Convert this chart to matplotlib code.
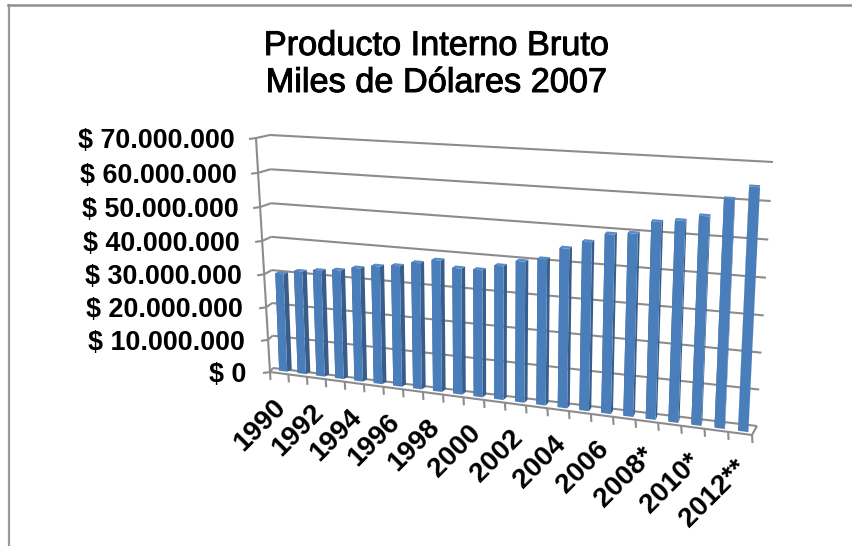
import numpy as np
import matplotlib
matplotlib.use("Agg")
import matplotlib.pyplot as plt
import matplotlib.patheffects as pe
from matplotlib.transforms import Transform, IdentityTransform

# data
years = ["1990", "1991", "1992", "1993", "1994", "1995", "1996", "1997", "1998", "1999", "2000", "2001",
         "2002", "2003", "2004", "2005", "2006", "2007", "2008*", "2009", "2010*", "2011", "2012**"]
pib = [29.8, 31.1, 31.9, 32.6, 33.8, 34.9, 35.6, 37.0, 38.3, 36.6, 36.7, 38.4,
       40.2, 41.4, 44.9, 47.2, 49.8, 50.5, 54.1, 54.9, 56.6, 61.5, 65.0]
pib = [v * 1e6 for v in pib]
y_ticks = [0, 10e6, 20e6, 30e6, 40e6, 50e6, 60e6, 70e6]
y_labels = ["$ 0", "$ 10.000.000", "$ 20.000.000", "$ 30.000.000", "$ 40.000.000",
            "$ 50.000.000", "$ 60.000.000", "$ 70.000.000"]

W, H = 852, 546
N = len(years)
VMAX = 70e6

# corners in image pixels: (0,0), (N,0), (N,max), (0,max)
FRONT = [(270, 372), (752, 435), (762, 168), (256, 138)]
BACK = [(273, 368), (757, 426), (773, 162), (270, 135)]
BAR_F = [(274, 370), (755, 433), (768, 168), (264.5, 136)]
BAR_B = [(278.5, 368), (755, 429), (768, 166), (269, 134)]


def homography(corners):
    src = [(0, 0), (1, 0), (1, 1), (0, 1)]
    A, b = [], []
    for (x, y), (u, v) in zip(src, corners):
        A.append([x, y, 1, 0, 0, 0, -u * x, -u * y])
        A.append([0, 0, 0, x, y, 1, -v * x, -v * y])
        b += [u, v]
    h = np.linalg.solve(np.array(A, float), np.array(b, float))
    return np.append(h, 1).reshape(3, 3)


class Plane(Transform):
    # (category, value) -> display pixels on one flat face of the 3d box
    input_dims = 2
    output_dims = 2

    def __init__(self, corners):
        super().__init__()
        self.h = homography(corners)

    def transform_non_affine(self, xy):
        xy = np.asarray(xy, float)
        pts = np.c_[xy[:, 0] / N, xy[:, 1] / VMAX, np.ones(len(xy))]
        out = pts @ self.h.T
        out = out[:, :2] / out[:, 2:]
        out[:, 1] = H - out[:, 1]
        return out

    def pt(self, cat, val):
        return self.transform_non_affine(np.array([[cat, val]]))[0]


plt.rcParams["font.family"] = ["Liberation Sans", "DejaVu Sans"]

fig = plt.figure(figsize=(W / 100, H / 100), dpi=100)
ax = fig.add_axes([0, 0, 1, 1])
ax.set_xlim(0, N)
ax.set_ylim(0, VMAX)
ax.autoscale(False)
ax.axis("off")

front_p = Plane(FRONT)
back_p = Plane(BACK)
px = IdentityTransform()
grid_col = "#8c8c8c"
line = dict(color=grid_col, lw=1.5, clip_on=False, solid_capstyle="butt")

# frame of the slide
fig.add_artist(plt.Line2D([8.5 / W, 8.5 / W], [0, 1 - 5 / H], color="#9a9a9a", lw=1.6))
fig.add_artist(plt.Line2D([8 / W, 1], [1 - 5 / H, 1 - 5 / H], color="#8f8f8f", lw=1.8))

# walls and gridlines
for v in y_ticks:
    ax.plot([0, N], [v, v], transform=back_p, **line)
    p0 = front_p.pt(0, v)
    p1 = back_p.pt(0, v)
    ax.plot([p0[0], p1[0]], [p0[1], p1[1]], transform=px, **line)
    ax.plot([p0[0] - 7, p0[0]], [p0[1] - 1, p0[1]], transform=px, **line)
ax.plot([0, 0], [0, VMAX], transform=front_p, **line)
ax.plot([0, N], [0, 0], transform=front_p, **line)
p0 = front_p.pt(N, 0)
p1 = back_p.pt(N, 0)
ax.plot([p0[0], p1[0]], [p0[1], p1[1]], transform=px, **line)
for i in range(N + 1):
    p = front_p.pt(i, 0)
    ax.plot([p[0], p[0] + 0.5], [p[1], p[1] - 8], transform=px, **line)

# bars: side faces first, front face on top
x = np.arange(N) + 0.5
bw = 0.44
bar_front = Plane(BAR_F)
bar_back = Plane(BAR_B)
for i in range(N):
    v = pib[i]
    l, r = x[i] - bw / 2, x[i] + bw / 2
    for e in (l, r):
        pts = np.array([bar_front.pt(e, 0), bar_front.pt(e, v), bar_back.pt(e, v), bar_back.pt(e, 0)])
        ax.fill(pts[:, 0], pts[:, 1], transform=px, color="#385D8A", lw=0, clip_on=False, zorder=3)
    pts = np.array([bar_front.pt(l, v), bar_front.pt(r, v), bar_back.pt(r, v), bar_back.pt(l, v)])
    ax.fill(pts[:, 0], pts[:, 1], transform=px, color="#5B8CC8", lw=0, clip_on=False, zorder=3)
ax.bar(x, pib, width=bw, transform=bar_front, color="#4A7EBB", lw=0, clip_on=False, zorder=4)

# value labels
for v, lab in zip(y_ticks, y_labels):
    p = front_p.pt(0, v)
    off = 21 + 3 * (1 - v / VMAX)
    ax.annotate(lab, xy=(p[0] - off, p[1] - 3), xycoords="figure pixels", ha="right", va="center",
                fontsize=19.4, fontweight="bold", color="black", annotation_clip=False)

# every second year, rotated
for i in range(0, N, 2):
    p = front_p.pt(i + 0.5, 0)
    ax.annotate(years[i], xy=(p[0] - 6, p[1] - 21), xycoords="figure pixels", ha="right", va="top",
                rotation=45, rotation_mode="anchor", fontsize=20, fontweight="bold",
                color="black", annotation_clip=False)

# title, slightly heavier than the plain font
stroke = [pe.withStroke(linewidth=0.7, foreground="black")]
fig.text(436 / W, 1 - 55 / H, "Producto Interno Bruto", ha="center", va="baseline",
         fontsize=24.7, color="black", path_effects=stroke)
fig.text(436 / W, 1 - 92 / H, "Miles de Dólares 2007", ha="center", va="baseline",
         fontsize=24.7, color="black", path_effects=stroke)

fig.savefig("out.png", dpi=100)
